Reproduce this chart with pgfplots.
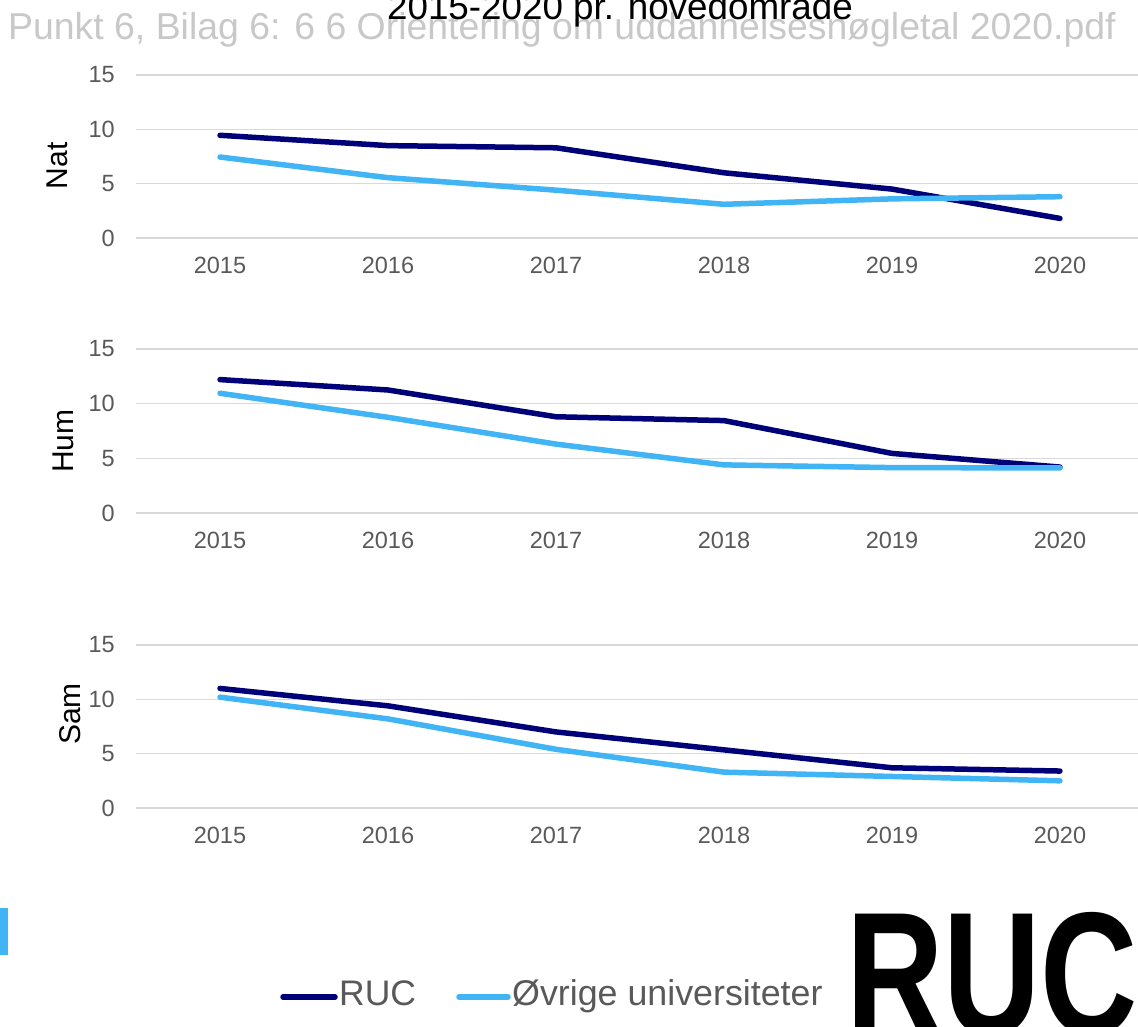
\documentclass[border=0pt]{standalone}
\usepackage{pgfplots}
\pgfplotsset{compat=1.18}
\usepackage{fontspec}
\setmainfont{Liberation Sans}
\definecolor{ruc}{RGB}{0,0,120}
\definecolor{ovr}{RGB}{64,180,245}
\definecolor{tickc}{RGB}{89,89,89}
\definecolor{gridc}{RGB}{217,217,217}
\definecolor{wm}{RGB}{200,200,200}
\tikzset{
rucline/.style={ruc, line width=5.5bp, line cap=round, line join=round},
ovrline/.style={ovr, line width=5.5bp, line cap=round, line join=round},
}
\pgfplotsset{panel/.style={
  scale only axis, width=1008bp,
  xmin=2014.5, xmax=2020.5, ymin=0, ymax=15,
  xtick={2015,2016,2017,2018,2019,2020},
  xticklabels={2015,2016,2017,2018,2019,2020},
  ytick={0,5,10,15}, yticklabels={0,5,10,15},
  axis line style={draw=none}, tick style={draw=none},
  ymajorgrids, grid style={color=gridc, line width=1.5bp},
  tick label style={font=\fontsize{23.5bp}{27bp}\selectfont, text=tickc, inner sep=0pt},
  xticklabel style={anchor=north}, yticklabel style={anchor=east},
  xticklabel shift=19bp, yticklabel shift=21bp,
  anchor=south west,
}}
\begin{document}
\begin{tikzpicture}[x=1bp,y=1bp]
\path[use as bounding box, clip] (0,0) rectangle (1138,1027);
% watermark and title
\node[anchor=base west, inner sep=0, text=wm, font=\fontsize{37.4bp}{40bp}\selectfont] at (8,987) {Punkt 6, Bilag 6: 6 6 Orientering om uddannelsesnøgletal 2020.pdf};
\node[anchor=base, inner sep=0, font=\fontsize{36.8bp}{40bp}\selectfont] at (620,1007) {2015-2020 pr. hovedområde};
% Nat
\begin{axis}[panel, at={(136bp,789bp)}, height=163bp]
\addplot[rucline] coordinates {(2015,9.45) (2016,8.5) (2017,8.3) (2018,6.0) (2019,4.5) (2020,1.8)};
\addplot[ovrline] coordinates {(2015,7.45) (2016,5.55) (2017,4.4) (2018,3.1) (2019,3.6) (2020,3.8)};
\end{axis}
% Hum
\begin{axis}[panel, at={(136bp,514bp)}, height=164bp]
\addplot[rucline] coordinates {(2015,12.2) (2016,11.25) (2017,8.8) (2018,8.45) (2019,5.45) (2020,4.2)};
\addplot[ovrline] coordinates {(2015,10.95) (2016,8.75) (2017,6.3) (2018,4.4) (2019,4.15) (2020,4.12)};
\end{axis}
% Sam
\begin{axis}[panel, at={(136bp,219bp)}, height=163bp]
\addplot[rucline] coordinates {(2015,11.0) (2016,9.4) (2017,7.0) (2018,5.35) (2019,3.7) (2020,3.4)};
\addplot[ovrline] coordinates {(2015,10.2) (2016,8.2) (2017,5.4) (2018,3.3) (2019,2.9) (2020,2.5)};
\end{axis}
% y labels
\node[rotate=90, anchor=base, inner sep=0, font=\fontsize{30bp}{34bp}\selectfont] at (67,861) {Nat};
\node[rotate=90, anchor=base, inner sep=0, font=\fontsize{30bp}{34bp}\selectfont] at (73,586) {Hum};
\node[rotate=90, anchor=base, inner sep=0, font=\fontsize{30bp}{34bp}\selectfont] at (80,313) {Sam};
% legend
\draw[rucline] (283,30) -- (335,30);
\node[anchor=base west, inner sep=0, text=tickc, font=\fontsize{35.5bp}{40bp}\selectfont] at (339,21) {RUC};
\draw[ovrline] (459,30) -- (508,30);
\node[anchor=base west, inner sep=0, text=tickc, font=\fontsize{35.8bp}{40bp}\selectfont] at (512,21) {Øvrige universiteter};
% left blue mark
\fill[ovr] (0,72) rectangle (8,119);
% logo
\node[anchor=base west, inner sep=0, xscale=0.77, font=\bfseries\fontsize{175bp}{175bp}\selectfont] at (846,-8) {RUC};
\end{tikzpicture}
\end{document}
